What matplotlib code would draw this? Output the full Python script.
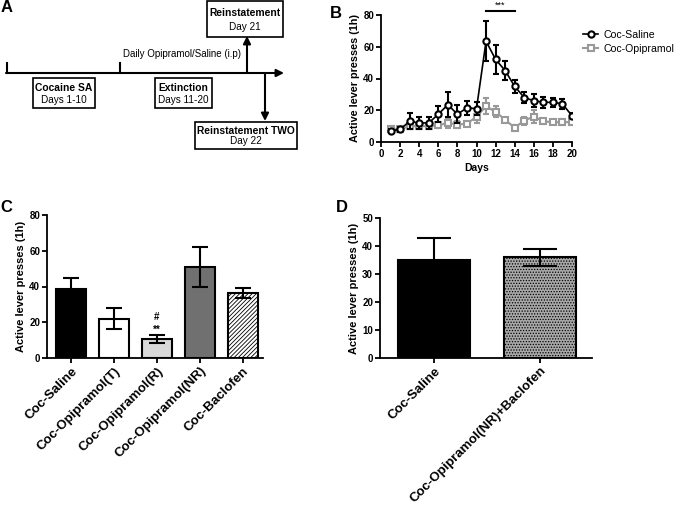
import matplotlib
matplotlib.use("Agg")
import matplotlib.pyplot as plt
from matplotlib.patches import Rectangle

plt.rcParams["font.family"] = ["Liberation Sans", "DejaVu Sans"]
plt.rcParams["hatch.linewidth"] = 0.6

W, H = 675, 515

# --- panel B: daily active lever presses ---
days = list(range(1, 21))
saline_mean = [7, 8, 13, 12, 12, 17.5, 23.5, 17.5, 21.5, 21, 63.5, 52, 45, 35, 28, 26, 25, 25, 24, 16.5]
saline_sem = [1.5, 1.5, 5, 4, 4, 5, 8, 5.5, 4.5, 4, 12.5, 9, 6, 4, 3.5, 4, 3.5, 3, 3, 1.5]
opi_mean = [8, 8, 10, 10, 10, 10.5, 12, 11, 11.5, 16, 22.5, 19, 14, 9, 13.5, 16, 13, 12.5, 12.5, 12.5]
opi_sem = [2, 1.5, 2, 2, 1.5, 1.5, 3, 2, 1.5, 4, 5, 3.5, 1, 2, 2.5, 4, 1.5, 1, 2, 2]
sig_days = (11, 14)

# --- panel C ---
c_groups = ["Coc-Saline", "Coc-Opipramol(T)", "Coc-Opipramol(R)", "Coc-Opipramol(NR)", "Coc-Baclofen"]
c_mean = [38.5, 22, 10.5, 51, 36.5]
c_sem = [6, 6, 2.2, 11, 2.7]

# --- panel D ---
d_groups = ["Coc-Saline", "Coc-Opipramol(NR)+Baclofen"]
d_mean = [35, 36]
d_sem = [8, 3]


def px_axes(fig, left, top, right, bottom):
    return fig.add_axes([left / W, (H - bottom) / H, (right - left) / W, (bottom - top) / H])


def style(ax, fs=7):
    for s in ("top", "right"):
        ax.spines[s].set_visible(False)
    for s in ("left", "bottom"):
        ax.spines[s].set_linewidth(1.3)
    ax.tick_params(direction="out", length=3.5, width=1.3, labelsize=fs, pad=1.5)
    for lab in ax.get_yticklabels() + ax.get_xticklabels():
        lab.set_fontweight("bold")


fig = plt.figure(figsize=(W / 100, H / 100), dpi=100)

# ---------------- Panel A: timeline schematic ----------------
axA = fig.add_axes([0, (H - 155) / H, 300 / W, 155 / H])
axA.set_xlim(0, 300)
axA.set_ylim(155, 0)
axA.axis("off")
line_y = 73
arrow = dict(arrowstyle="-|>", lw=1.5, color="black", mutation_scale=11, shrinkA=0, shrinkB=0)
axA.annotate("", xy=(284, line_y), xytext=(6, line_y), arrowprops=arrow)
for tx in (7, 120):
    axA.plot([tx, tx], [line_y - 10, line_y], color="black", lw=1.5)
axA.annotate("", xy=(247, 36), xytext=(247, line_y), arrowprops=arrow)
axA.annotate("", xy=(265, 121), xytext=(265, line_y), arrowprops=arrow)
boxes = [
    ((207, 1, 283, 37), "Reinstatement", "Day 21"),
    ((33, 78, 95, 108), "Cocaine SA", "Days 1-10"),
    ((155, 78, 212, 108), "Extinction", "Days 11-20"),
    ((195, 122, 297, 149), "Reinstatement TWO", "Day 22"),
]
for (x0, y0, x1, y1), title, sub in boxes:
    axA.add_patch(Rectangle((x0, y0), x1 - x0, y1 - y0, fill=False, lw=1.2, ec="black", clip_on=False))
    cx = (x0 + x1) / 2
    h = y1 - y0
    axA.text(cx, y0 + h * 0.33, title, ha="center", va="center", fontsize=7.4, fontweight="bold")
    axA.text(cx, y0 + h * 0.72, sub, ha="center", va="center", fontsize=7.2)
axA.text(182, 54, "Daily Opipramol/Saline (i.p)", ha="center", va="center", fontsize=7)

# ---------------- Panel B ----------------
axB = px_axes(fig, 381, 15, 572, 142)
axB.errorbar(days, opi_mean, yerr=opi_sem, fmt="none", ecolor="#999999", capsize=2.5,
             elinewidth=1.5, capthick=1.5, zorder=2)
lo, = axB.plot(days, opi_mean, color="#999999", marker="s", ms=4.5, mfc="white",
               mec="#999999", mew=1.5, lw=1.5, label="Coc-Opipramol", zorder=2)
axB.errorbar(days, saline_mean, yerr=saline_sem, fmt="none", ecolor="black", capsize=2.5,
             elinewidth=1.5, capthick=1.5, zorder=3)
ls, = axB.plot(days, saline_mean, color="black", marker="o", ms=4.5, mfc="white",
               mec="black", mew=1.5, lw=1.2, label="Coc-Saline", zorder=3)
axB.set_xlim(0, 20)
axB.set_ylim(0, 80)
axB.set_xticks(range(0, 21, 2))
axB.set_yticks(range(0, 81, 20))
style(axB)
axB.set_xlabel("Days", fontsize=7.5, fontweight="bold", labelpad=3)
axB.set_ylabel("Active lever presses (1h)", fontsize=7.8, fontweight="bold", labelpad=2)
axB.plot(sig_days, [82.5, 82.5], color="black", lw=1.5, clip_on=False)
axB.text(sum(sig_days) / 2, 83.5, "***", ha="center", va="bottom", fontsize=6.5, clip_on=False)
axB.legend([ls, lo], ["Coc-Saline", "Coc-Opipramol"], loc="upper left",
           bbox_to_anchor=(1.02, 0.94), frameon=False, fontsize=7.6, handlelength=1.4,
           handletextpad=0.5, labelspacing=0.35, borderaxespad=0.3)

# ---------------- Panel C ----------------
axC = px_axes(fig, 47, 215, 263, 358)
c_face = ["black", "white", "#d9d9d9", "#707070", "white"]
c_hatch = [None, None, None, None, "////////"]
xc = list(range(len(c_groups)))
bars = axC.bar(xc, c_mean, width=0.7, color=c_face, edgecolor="black", linewidth=1.5, zorder=2)
for b, h in zip(bars, c_hatch):
    if h:
        b.set_hatch(h)
axC.errorbar(xc, c_mean, yerr=c_sem, fmt="none", ecolor="black", elinewidth=1.5, capsize=5.5,
             capthick=1.5, zorder=3)
axC.set_xlim(-0.56, 4.47)
axC.set_ylim(0, 80)
axC.set_yticks(range(0, 81, 20))
axC.set_xticks(xc)
axC.set_xticklabels(c_groups, rotation=45, ha="right", rotation_mode="anchor")
style(axC, fs=7)
for lab in axC.get_xticklabels():
    lab.set_fontsize(9.5)
axC.set_ylabel("Active lever presses (1h)", fontsize=8, fontweight="bold", labelpad=2)
axC.text(2, 15.5, "**", ha="center", va="center", fontsize=7, fontweight="bold")
axC.text(2, 23, "#", ha="center", va="center", fontsize=7, fontweight="bold")

# ---------------- Panel D ----------------
axD = px_axes(fig, 380, 218, 592, 358)
xd = list(range(len(d_groups)))
barsD = axD.bar(xd, d_mean, width=0.68, color=["black", "#a8a8a8"], edgecolor="black",
                linewidth=1.5, zorder=2)
barsD[1].set_hatch("......")
axD.errorbar(xd, d_mean, yerr=d_sem, fmt="none", ecolor="black", elinewidth=1.5, capsize=12,
             capthick=1.5, zorder=3)
axD.set_xlim(-0.51, 1.49)
axD.set_ylim(0, 50)
axD.set_yticks(range(0, 51, 10))
axD.set_xticks(xd)
axD.set_xticklabels(d_groups, rotation=45, ha="right", rotation_mode="anchor")
style(axD, fs=7)
for lab in axD.get_xticklabels():
    lab.set_fontsize(9.5)
axD.set_ylabel("Active lever presses (1h)", fontsize=8, fontweight="bold", labelpad=2)

# panel letters
for letter, x, y in (("A", 7, 8), ("B", 336, 13), ("C", 6, 208), ("D", 342, 208)):
    fig.text(x / W, 1 - y / H, letter, ha="center", va="center", fontsize=12, fontweight="bold")

fig.savefig("out.png", dpi=100)
